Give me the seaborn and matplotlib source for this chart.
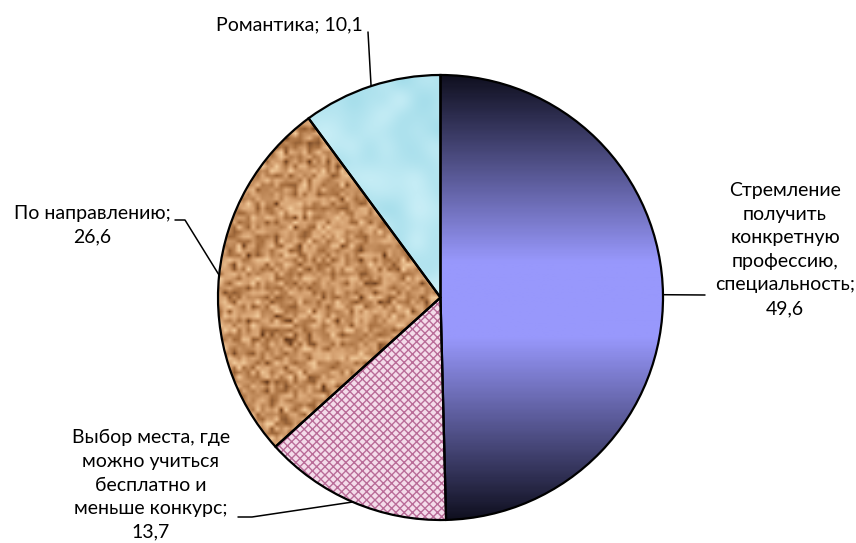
import numpy as np
import matplotlib
matplotlib.use('Agg')
import matplotlib.pyplot as plt
import seaborn as sns
from matplotlib.colors import LinearSegmentedColormap

# data
categories = ['Стремление\nполучить\nконкретную\nпрофессию,\nспециальность;',
              'Выбор места, где\nможно учиться\nбесплатно и\nменьше конкурс;',
              'По направлению;',
              'Романтика;']
values = [49.6, 13.7, 26.6, 10.1]
value_labels = ['49,6', '13,7', '26,6', '10,1']
separators = ['\n', '\n', '\n', ' ']

sns.set_theme(style='white')
plt.rcParams['font.family'] = ['Lato', 'DejaVu Sans']

W, H = 856, 543
CX, CY, R = 440.5, 297.5, 222.5


def px(x, y):
    # pixel position -> data coords (pie radius = 1)
    return ((x - CX) / R, (CY - y) / R)


fig = plt.figure(figsize=(W / 100, H / 100), dpi=100)
ax = fig.add_axes([0, 0, 1, 1])

wedges, _ = ax.pie(values, startangle=90, counterclock=False, radius=1,
                   wedgeprops=dict(linewidth=0))

# slice 1: vertical gradient dark -> lavender -> dark
grad_cmap = LinearSegmentedColormap.from_list(
    'grad', [(0, '#101020'), (0.42, '#9898fc'), (0.59, '#9898fc'), (1, '#101020')])
wedges[0].set_facecolor('#9999ff')
grad = np.linspace(0, 1, 300).reshape(-1, 1)
im = ax.imshow(grad, cmap=grad_cmap, extent=(-1, 1, -1, 1), origin='upper',
               aspect='auto', zorder=2)
im.set_clip_path(wedges[0])

# slice 2: pink weave
plt.rcParams['hatch.linewidth'] = 1.5
wedges[1].set_facecolor('#f4dcea')
wedges[1].set_edgecolor('#b96c98')
wedges[1].set_hatch('xxxx')
wedges[1].set_linewidth(0)

# slice 3: cork texture
rng = np.random.default_rng(7)
cork_cmap = LinearSegmentedColormap.from_list('cork', ['#5e3418', '#a87040', '#d6a272', '#f2cc9c'])
wedges[2].set_facecolor('#c28c5c')
cork = np.clip(rng.normal(0.55, 0.22, (95, 95)), 0, 1)
im2 = ax.imshow(cork, cmap=cork_cmap, extent=(-1, 1, -1, 1), interpolation='bilinear',
                aspect='auto', zorder=2, vmin=0, vmax=1)
im2.set_clip_path(wedges[2])

# slice 4: water drops
water_cmap = LinearSegmentedColormap.from_list('water', ['#7ec4d6', '#a6deeb', '#c4ecf5', '#e6f8fc'])
wedges[3].set_facecolor('#aee2ee')
water = np.clip(rng.normal(0.5, 0.22, (28, 28)), 0, 1)
im3 = ax.imshow(water, cmap=water_cmap, extent=(-1, 1, -1, 1), interpolation='bicubic',
                aspect='auto', zorder=2, vmin=0, vmax=1)
im3.set_clip_path(wedges[3])

# outlines on top
ax.pie(values, startangle=90, counterclock=False, radius=1,
       wedgeprops=dict(fill=False, edgecolor='black', linewidth=1.6, zorder=4))

# labels with leader lines
label_pos = [(785, 249.5), (151, 485), (92, 225), (289, 25)]
elbows = [[(705, 295)], [(252, 517), (238, 517)], [(185, 220), (175, 220)], [(368, 32)]]

for w, cat, val, sep, pos, elb in zip(wedges, categories, value_labels, separators,
                                       label_pos, elbows):
    theta = np.deg2rad((w.theta1 + w.theta2) / 2)
    pts = [(np.cos(theta), np.sin(theta))] + [px(*p) for p in elb]
    xs, ys = zip(*pts)
    ax.plot(xs, ys, color='black', linewidth=1.1, zorder=5)
    ax.text(*px(*pos), cat + sep + val, ha='center', va='center', ma='center',
            fontsize=14, linespacing=1.47, color='black', zorder=6)

ax.set_xlim(-CX / R, (W - CX) / R)
ax.set_ylim((CY - H) / R, CY / R)
ax.set_aspect('equal')
ax.axis('off')

fig.savefig('out.png', dpi=100, facecolor='white')
